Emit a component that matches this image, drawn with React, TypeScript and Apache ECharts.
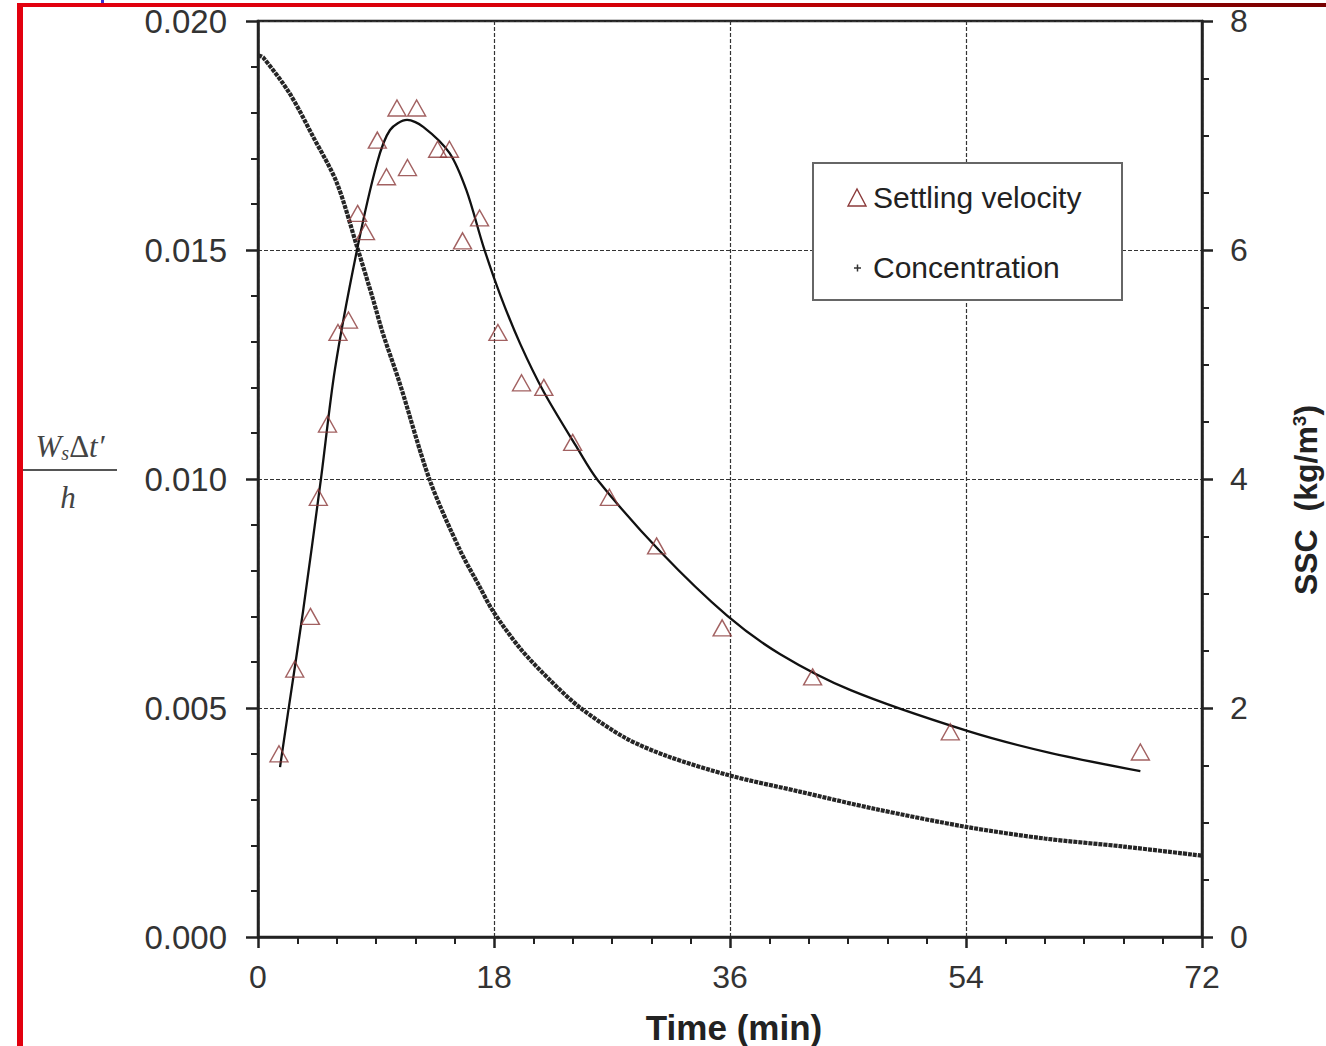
import React, { useEffect, useRef } from "react";
import * as echarts from "echarts";

// Settling velocity (triangles), left axis
const velTime = [1.6, 2.8, 4.0, 4.6, 5.3, 6.1, 6.9, 7.6, 8.2, 9.1, 9.8, 10.6, 11.4, 12.1, 13.7, 14.6, 15.6, 16.9, 18.3, 20.1, 21.8, 24.0, 26.8, 30.4, 35.4, 42.3, 52.8, 67.3];
const velValue = [0.0040, 0.00585, 0.0070, 0.0096, 0.0112, 0.0132, 0.01347, 0.0158, 0.0154, 0.0174, 0.0166, 0.0181, 0.0168, 0.0181, 0.0172, 0.0172, 0.0152, 0.0157, 0.0132, 0.0121, 0.0120, 0.0108, 0.0096, 0.00854, 0.00675, 0.00568, 0.00448, 0.00404];

// Fitted curve, left axis
const fitTime = [1.68, 2.29, 3.43, 4.8, 5.87, 7.55, 9.08, 10.07, 11.37, 12.6, 14.6, 15.9, 17.2, 18.5, 20.0, 21.8, 24.3, 25.9, 30.7, 35.8, 39.8, 45.2, 54.1, 60.4, 67.3];
const fitValue = [0.00371, 0.0049, 0.0071, 0.0100, 0.0124, 0.0150, 0.0169, 0.01762, 0.01784, 0.01769, 0.01712, 0.0163, 0.01507, 0.0140, 0.01295, 0.0119, 0.0107, 0.00998, 0.00841, 0.00701, 0.00618, 0.00539, 0.0045, 0.00402, 0.00362];

// Concentration (SSC), right axis
const concTime = [0, 0.4, 2.4, 4.2, 6.0, 7.55, 8.8, 9.5, 10.8, 13.1, 15.4, 16.9, 17.9, 20.0, 22.3, 24.6, 28.0, 31.2, 36, 41.3, 47.0, 54.1, 60, 66, 72];
const concValue = [7.70, 7.68, 7.37, 6.99, 6.59, 6.03, 5.56, 5.28, 4.84, 3.99, 3.38, 3.06, 2.85, 2.52, 2.24, 2.00, 1.74, 1.58, 1.41, 1.27, 1.12, 0.96, 0.86, 0.79, 0.71];

const xMin = 0, xMax = 72, xStep = 18;
const yMin = 0, yMax = 0.02, yStep = 0.005;
const y2Min = 0, y2Max = 8, y2Step = 2;

const legendLabels = ["Settling velocity", "Concentration"];
const xName = "Time (min)";

const SANS = '"Liberation Sans", Arial, Helvetica, sans-serif';
const SERIF = '"Liberation Serif", "Times New Roman", serif';

export default function App() {
  const ref = useRef<HTMLDivElement>(null);

  useEffect(() => {
    document.body.style.margin = "0";
    if (!ref.current) return;
    const chart = echarts.init(ref.current, null, { renderer: "svg" });

    const axisColor = "#222";
    const labelStyle = { fontSize: 32, color: "#333", fontFamily: SANS };
    const gridLine = { show: true, lineStyle: { color: "#333", type: [4, 2] as any, width: 1.2 } };

    const option: any = {
      animation: false,
      backgroundColor: "#fff",
      grid: {
        left: 258, right: 124, top: 21, bottom: 109,
        show: true, borderColor: axisColor, borderWidth: 2.5, backgroundColor: "transparent",
      },
      xAxis: {
        type: "value", min: xMin, max: xMax, interval: xStep,
        axisLine: { show: true, onZero: false, lineStyle: { color: axisColor, width: 2.5 } },
        axisTick: { show: true, length: 11, lineStyle: { color: axisColor, width: 2.5 } },
        minorTick: { show: true, splitNumber: 6, length: 7, lineStyle: { color: axisColor, width: 2 } },
        axisLabel: { ...labelStyle, margin: 24 },
        splitLine: gridLine,
      },
      yAxis: [
        {
          type: "value", min: yMin, max: yMax, interval: yStep,
          axisLine: { show: true, onZero: false, lineStyle: { color: axisColor, width: 2.5 } },
          axisTick: { show: true, length: 12, lineStyle: { color: axisColor, width: 2.5 } },
          minorTick: { show: true, splitNumber: 5, length: 7, lineStyle: { color: axisColor, width: 2 } },
          axisLabel: { ...labelStyle, fontSize: 33, margin: 31, formatter: (v: number) => v.toFixed(3) },
          splitLine: gridLine,
        },
        {
          type: "value", min: y2Min, max: y2Max, interval: y2Step, position: "right",
          axisLine: { show: true, onZero: false, lineStyle: { color: axisColor, width: 2.5 } },
          axisTick: { show: true, length: 11, lineStyle: { color: axisColor, width: 2.5 } },
          minorTick: { show: true, splitNumber: 4, length: 7, lineStyle: { color: axisColor, width: 2 } },
          axisLabel: { ...labelStyle, margin: 28 },
          splitLine: { show: false },
        },
      ],
      series: [
        {
          name: legendLabels[1],
          type: "line",
          yAxisIndex: 1,
          data: concTime.map((t, i) => [t, concValue[i]]),
          smooth: 0.3,
          showSymbol: false,
          lineStyle: { color: "#262626", width: 4.2, type: [4, 1] },
          z: 3,
        },
        {
          name: "fit",
          type: "line",
          yAxisIndex: 0,
          data: fitTime.map((t, i) => [t, fitValue[i]]),
          smooth: 0.3,
          showSymbol: false,
          lineStyle: { color: "#111", width: 2.3 },
          z: 4,
        },
        {
          name: legendLabels[0],
          type: "scatter",
          yAxisIndex: 0,
          data: velTime.map((t, i) => [t, velValue[i]]),
          symbol: "triangle",
          symbolSize: [18, 16],
          itemStyle: { color: "rgba(0,0,0,0)", borderColor: "#8b3a3a", borderWidth: 1.4 },
          z: 5,
        },
      ],
      graphic: [
        // red frame
        { type: "rect", shape: { x: 17, y: 3, width: 6, height: 1043 }, style: { fill: "#e2000e" }, z: 100 },
        {
          type: "rect", shape: { x: 17, y: 3, width: 1309, height: 4 },
          style: {
            fill: new echarts.graphic.LinearGradient(0, 0, 1, 0, [
              { offset: 0, color: "#e3000f" },
              { offset: 0.45, color: "#d60008" },
              { offset: 0.7, color: "#a80000" },
              { offset: 1, color: "#780000" },
            ]),
          },
          z: 100,
        },
        { type: "rect", shape: { x: 101, y: 0, width: 3, height: 3 }, style: { fill: "#3b2fd0" }, z: 100 },
        // legend
        {
          type: "rect", shape: { x: 813, y: 163, width: 309, height: 137 },
          style: { fill: "#fff", stroke: "#666", lineWidth: 2 }, z: 50,
        },
        {
          type: "polygon", shape: { points: [[848, 206], [857, 189], [866, 206]] },
          style: { fill: "none", stroke: "#8b3a3a", lineWidth: 1.4 }, z: 51,
        },
        {
          type: "text", x: 873, y: 197,
          style: { text: legendLabels[0], fontSize: 30, fontFamily: SANS, fill: "#222", verticalAlign: "middle", align: "left" },
          z: 51,
        },
        { type: "line", shape: { x1: 854, y1: 268, x2: 861, y2: 268 }, style: { stroke: "#333", lineWidth: 1.5 }, z: 51 },
        { type: "line", shape: { x1: 857.5, y1: 264.5, x2: 857.5, y2: 271.5 }, style: { stroke: "#333", lineWidth: 1.5 }, z: 51 },
        {
          type: "text", x: 873, y: 267,
          style: { text: legendLabels[1], fontSize: 30, fontFamily: SANS, fill: "#222", verticalAlign: "middle", align: "left" },
          z: 51,
        },
        // x axis name
        {
          type: "text", x: 734, y: 1027,
          style: { text: xName, fontSize: 35, fontWeight: "bold", fontFamily: SANS, fill: "#222", align: "center", verticalAlign: "middle" },
          z: 51,
        },
        // right axis name
        {
          type: "text", x: 1306, y: 500, rotation: Math.PI / 2,
          style: {
            text: "SSC  (kg/m{sup|3})",
            fontSize: 32, fontWeight: "bold", fontFamily: SANS, fill: "#222", align: "center", verticalAlign: "middle",
            rich: { sup: { fontSize: 19, fontWeight: "bold", fontFamily: SANS, fill: "#222", verticalAlign: "top", padding: [0, 0, 12, 0] } },
          },
          z: 51,
        },
        // left axis name (fraction)
        {
          type: "text", x: 70, y: 446,
          style: {
            text: "{i|W}{sub|s}{u|Δ}{i|t′}",
            align: "center", verticalAlign: "middle",
            rich: {
              i: { fontSize: 31, fontStyle: "italic", fontFamily: SERIF, fill: "#444" },
              u: { fontSize: 31, fontFamily: SERIF, fill: "#444" },
              sub: { fontSize: 20, fontStyle: "italic", fontFamily: SERIF, fill: "#444", padding: [14, 0, 0, 0] },
            },
          },
          z: 51,
        },
        { type: "line", shape: { x1: 23, y1: 470, x2: 117, y2: 470 }, style: { stroke: "#555", lineWidth: 2 }, z: 51 },
        {
          type: "text", x: 68, y: 497,
          style: { text: "h", fontSize: 31, fontStyle: "italic", fontFamily: SERIF, fill: "#444", align: "center", verticalAlign: "middle" },
          z: 51,
        },
      ],
    };

    chart.setOption(option);
    return () => chart.dispose();
  }, []);

  return <div ref={ref} style={{ width: 1326, height: 1046 }} />;
}
